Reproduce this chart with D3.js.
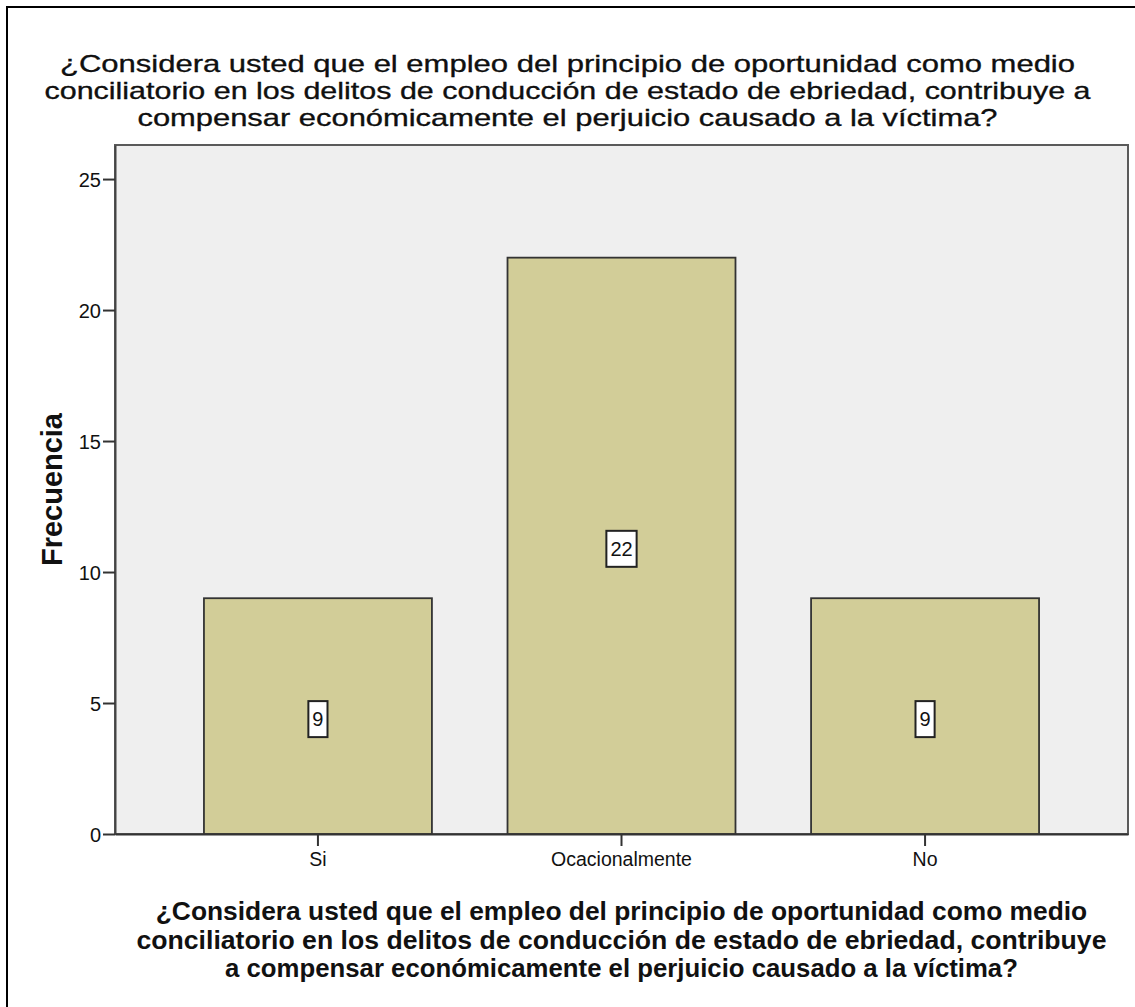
<!DOCTYPE html>
<html>
<head>
<meta charset="utf-8">
<script src="https://cdn.jsdelivr.net/npm/d3@7"></script>
<style>
  html, body { margin: 0; padding: 0; background: #fff; }
  svg { display: block; }
  text { font-family: "Liberation Sans", Arial, sans-serif; fill: #111; }
</style>
</head>
<body>
<svg id="chart" width="1135" height="1007"></svg>
<script>
const categories = ["Si", "Ocacionalmente", "No"];
const frequencies = [9, 22, 9];
const yTicks = [0, 5, 10, 15, 20, 25];
const titleLines = [
  "¿Considera usted que el empleo del principio de oportunidad como medio",
  "conciliatorio en los delitos de conducción de estado de ebriedad, contribuye a",
  "compensar económicamente el perjuicio causado a la víctima?"
];
const xTitleLines = [
  "¿Considera usted que el empleo del principio de oportunidad como medio",
  "conciliatorio en los delitos de conducción de estado de ebriedad, contribuye",
  "a compensar económicamente el perjuicio causado a la víctima?"
];
const yTitle = "Frecuencia";

const W = 1135, H = 1007;
const plot = { left: 115, top: 145, right: 1128, bottom: 834 };
const svg = d3.select("#chart");

// outer frame
svg.append("rect").attr("x", 7).attr("y", 7).attr("width", W + 20).attr("height", H + 20)
  .attr("fill", "#fff").attr("stroke", "#000").attr("stroke-width", 2);

const x = d3.scaleBand().domain(categories)
  .range([plot.left, plot.right]).paddingInner(0.249).paddingOuter(0.293);
const y = d3.scaleLinear().domain([0, 26.3]).range([plot.bottom, plot.top]);

// plot background
svg.append("rect").attr("x", plot.left).attr("y", plot.top)
  .attr("width", plot.right - plot.left).attr("height", plot.bottom - plot.top)
  .attr("fill", "#efefef").attr("stroke", "#5a5a5a").attr("stroke-width", 2);

// bars
svg.append("g").selectAll("rect").data(categories).join("rect")
  .attr("x", d => x(d)).attr("width", x.bandwidth())
  .attr("y", (d, i) => y(frequencies[i]))
  .attr("height", (d, i) => y(0) - y(frequencies[i]))
  .attr("fill", "#d2cd98").attr("stroke", "#333").attr("stroke-width", 1.8);

// axes
const yAxis = svg.append("g").attr("transform", `translate(${plot.left},0)`)
  .call(d3.axisLeft(y).tickValues(yTicks).tickSize(12).tickSizeOuter(0).tickPadding(2).tickFormat(d3.format("d")));
yAxis.select(".domain").attr("stroke", "#444").attr("stroke-width", 2);
yAxis.selectAll(".tick line").attr("stroke", "#333").attr("stroke-width", 2);
yAxis.selectAll(".tick text").style("font-family", "Liberation Sans, Arial, sans-serif")
  .style("font-size", "20px").attr("fill", "#222").attr("dy", "0.36em");

const xAxis = svg.append("g").attr("transform", `translate(0,${plot.bottom})`)
  .call(d3.axisBottom(x).tickSize(12).tickSizeOuter(0).tickPadding(6));
xAxis.select(".domain").attr("stroke", "#333").attr("stroke-width", 2);
xAxis.selectAll(".tick line").attr("stroke", "#333").attr("stroke-width", 2);
xAxis.selectAll(".tick text").style("font-family", "Liberation Sans, Arial, sans-serif")
  .style("font-size", "19.5px").attr("fill", "#222");

// value labels
const lbl = svg.append("g").selectAll("g").data(categories).join("g")
  .attr("transform", (d, i) => `translate(${x(d) + x.bandwidth() / 2},${y(frequencies[i] / 2) + 3})`);
lbl.append("text").text((d, i) => frequencies[i])
  .attr("text-anchor", "middle").attr("dy", "0.36em")
  .style("font-size", "20px");
lbl.each(function () {
  const g = d3.select(this);
  const t = g.select("text");
  const w = t.node().getComputedTextLength() + 8;
  g.insert("rect", "text").attr("x", -w / 2).attr("y", -18).attr("width", w).attr("height", 36)
    .attr("fill", "#fff").attr("stroke", "#222").attr("stroke-width", 2);
});

// helper: fit text width by font size
function fit(sel, target) {
  const len = sel.node().getComputedTextLength();
  const fs = parseFloat(sel.style("font-size"));
  sel.style("font-size", (fs * target / len).toFixed(2) + "px");
}

// title (tight line spacing: fixed size, stretched to width)
const titleWidths = [1015, 1046, 860];
const titleBase = [72, 99, 126];
titleLines.forEach((s, i) => {
  svg.append("text").attr("x", W / 2).attr("y", titleBase[i])
    .attr("text-anchor", "middle").style("font-size", "24px").style("font-weight", "normal")
    .attr("fill", "#000").attr("stroke", "#000").attr("stroke-width", 0.3)
    .attr("textLength", titleWidths[i]).attr("lengthAdjust", "spacingAndGlyphs")
    .text(s);
});

// x title
const xtWidths = [932, 970, 793];
const xtBase = [920, 949, 977];
const xc = (plot.left + plot.right) / 2;
xTitleLines.forEach((s, i) => {
  const t = svg.append("text").attr("x", xc).attr("y", xtBase[i])
    .attr("text-anchor", "middle").style("font-size", "24px").style("font-weight", "bold")
    .attr("fill", "#000").text(s);
  fit(t, xtWidths[i]);
});

// y title
const yt = svg.append("text").attr("transform", `translate(62,${(plot.top + plot.bottom) / 2}) rotate(-90)`)
  .attr("text-anchor", "middle").style("font-size", "26px").style("font-weight", "bold")
  .attr("fill", "#000").text(yTitle);
fit(yt, 153);
</script>
</body>
</html>
